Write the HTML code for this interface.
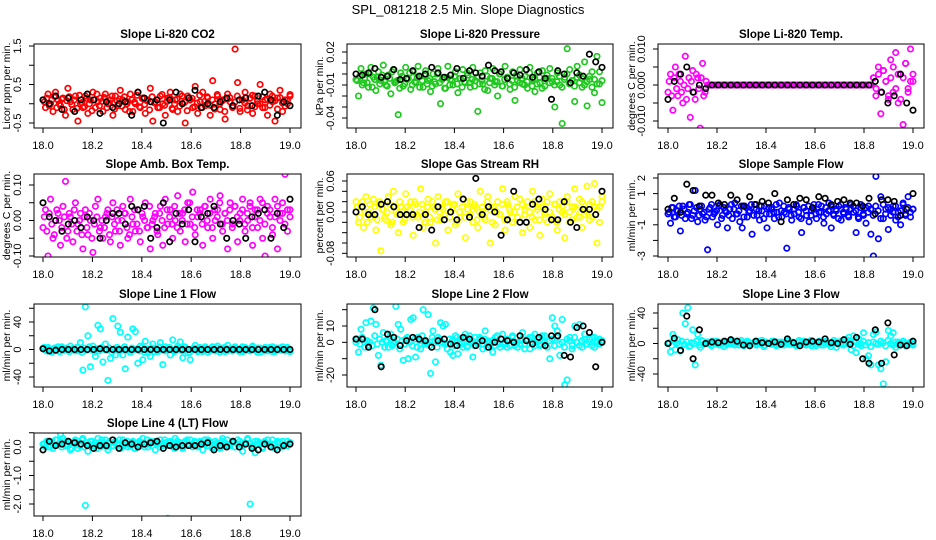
<!DOCTYPE html>
<html><head><meta charset="utf-8"><style>
html,body{margin:0;padding:0;background:#fff;}
svg{display:block;font-family:"Liberation Sans",Arial,sans-serif;}
</style></head><body>
<svg id="chart" width="936" height="540" viewBox="0 0 936 540" xmlns="http://www.w3.org/2000/svg">
<rect x="0" y="0" width="936" height="540" fill="#fff"/>
<text x="468" y="14" font-size="13" text-anchor="middle">SPL_081218  2.5 Min. Slope Diagnostics</text>
</svg>
<script>
// ---- data ----
const xTicks = [18.0, 18.2, 18.4, 18.6, 18.8, 19.0];
const xTickLabels = ["18.0", "18.2", "18.4", "18.6", "18.8", "19.0"];
const timeStart = 18.0, timeEnd = 19.0;

const co2Color = [0.1,-0.1,0.25,0.0,-0.2,0.3,0.1,-0.05,0.15,-0.3,0.4,0.05,-0.15,0.2,-0.45,0.0,-0.1,0.2,-0.25,0.1,0.3,-0.1,0.05,0.15,-0.2,0.25,0.0,0.1,-0.3,0.2,-0.05,0.35,0.1,-0.15,0.05,0.25,-0.2,0.0,0.3,-0.1,0.15,-0.25,0.1,0.4,-0.45,0.05,-0.1,0.2,0.0,-0.3,0.15,0.3,-0.15,0.1,-0.2,0.25,0.0,-0.5,0.2,0.1,-0.1,0.45,-0.25,0.05,0.3,-0.05,0.15,-0.3,0.6,0.0,0.2,-0.15,0.1,-0.4,0.25,0.05,-0.1,1.42,0.55,-0.2,0.1,0.3,-0.05,0.15,-0.25,0.2,0.0,0.5,-0.1,0.1,-0.3,0.25,0.05,-0.45,0.15,0.35,-0.2,0.1,0.0,0.2];
const co2Core = [0.05,0.15,-0.05,0.1,0.2,-0.1,0.0,0.12,-0.15,0.08,0.18,-0.02,0.1,-0.12,0.22,0.03,-0.08,0.14,0.0,-0.18,0.1,0.25,-0.05,0.06,0.16,-0.1,0.02,0.2,-0.14,0.08,0.12,-0.06,0.18,0.0,-0.2,0.1,0.04,0.22,-0.08,0.14,-0.02,0.08,-0.16,0.18,0.02,0.1,-0.1,0.24,-0.04,0.06,0.16,-0.12,0.0,0.12,-0.06,0.2,0.04,-0.18,0.1,0.14,-0.08,0.02,0.22,-0.1,0.06,0.18,-0.04,0.1,-0.14,0.24,0.0,0.08,-0.2,0.12,0.16,-0.06,0.04,0.2,-0.12,0.1,0.02,-0.16,0.14,0.22,-0.08,0.06,0.0,0.18,-0.1,0.12,-0.04,0.2,0.08,-0.14,0.16,0.02,-0.06,0.1,0.24];
const co2Black = [0.1,0.0,0.2,-0.15,0.15,-0.2,0.1,0.25,0.1,-0.25,0.05,-0.1,0.0,0.05,-0.3,0.3,0.15,0.05,0.1,-0.5,0.1,0.3,0.0,0.15,0.35,-0.1,0.0,-0.1,0.05,0.15,-0.05,0.1,0.15,-0.05,0.2,0.3,0.1,-0.3,0.05,-0.05];

const presColor = [-0.005,-0.02,0.005,-0.008,0.0,-0.012,0.006,-0.003,-0.015,0.002,-0.006,0.008,-0.01,-0.001,-0.018,0.004,-0.007,-0.037,0.001,-0.011,0.006,-0.004,-0.014,0.002,-0.008,0.007,-0.002,-0.012,0.003,-0.006,-0.016,0.0,-0.009,0.005,-0.027,-0.003,-0.013,0.007,-0.005,-0.01,0.002,-0.017,-0.004,0.004,-0.008,-0.001,-0.012,0.006,-0.006,-0.034,0.001,-0.009,0.003,-0.015,-0.004,0.005,-0.007,-0.02,0.0,-0.011,0.007,-0.003,-0.014,0.002,-0.024,-0.006,0.004,-0.009,-0.002,-0.013,0.006,-0.005,-0.016,0.001,-0.008,0.003,-0.011,-0.004,0.005,-0.007,-0.03,0.001,-0.01,-0.045,-0.003,0.023,0.004,-0.006,-0.025,0.007,-0.001,-0.012,0.011,-0.029,-0.005,0.002,-0.017,0.016,-0.009,-0.026];
const presCore = [-0.006,-0.002,-0.01,-0.004,-0.008,0.0,-0.012,-0.005,-0.003,-0.009,-0.001,-0.007,-0.011,-0.004,0.002,-0.008,-0.006,-0.013,-0.002,-0.009,-0.005,0.001,-0.01,-0.007,-0.003,-0.012,-0.006,-0.001,-0.009,-0.004,-0.011,-0.007,0.0,-0.008,-0.005,-0.013,-0.003,-0.01,-0.006,-0.002,-0.009,-0.004,-0.012,-0.007,0.001,-0.008,-0.005,-0.011,-0.003,-0.009,-0.006,-0.014,-0.002,-0.008,-0.004,-0.01,-0.007,0.0,-0.011,-0.005,-0.003,-0.009,-0.006,-0.012,-0.002,-0.008,-0.004,-0.01,-0.007,0.001,-0.011,-0.005,-0.009,-0.003,-0.013,-0.006,-0.001,-0.008,-0.004,-0.01,-0.007,-0.002,-0.012,-0.005,0.0,-0.009,-0.006,-0.011,-0.003,-0.008,-0.004,-0.01,-0.007,-0.002,-0.012,-0.005,-0.009,0.002,-0.006];
const presBlack = [0.0,-0.001,0.001,0.005,-0.003,-0.002,0.004,-0.005,-0.004,0.003,-0.002,0.0,0.006,0.001,-0.003,-0.001,0.005,-0.004,0.003,0.001,-0.002,0.008,0.003,0.002,-0.004,0.001,-0.001,0.004,-0.003,0.002,-0.004,-0.023,0.003,0.0,-0.008,0.001,-0.002,0.018,0.011,0.006];

const tempColor = [-0.002,0.003,-0.007,0.005,-0.003,0.001,-0.005,0.008,-0.001,-0.009,0.004,-0.004,0.002,-0.012,0.006,-0.002,0,0,0,0,0,0,0,0,0,0,0,0,0,0,0,0,0,0,0,0,0,0,0,0,0,0,0,0,0,0,0,0,0,0,0,0,0,0,0,0,0,0,0,0,0,0,0,0,0,0,0,0,0,0,0,0,0,0,0,0,0,0,0,0,0,0,0,0.002,-0.003,0.005,-0.008,0.004,0.001,-0.004,0.007,-0.002,0.009,-0.005,0.003,-0.011,0.006,-0.001,0.01,0.001];
const tempCore = [0.001,-0.003,0.002,-0.001,0.003,-0.002,0.0,-0.004,0.002,0.001,-0.002,0.003,-0.001,0.002,-0.003,0.001,0,0,0,0,0,0,0,0,0,0,0,0,0,0,0,0,0,0,0,0,0,0,0,0,0,0,0,0,0,0,0,0,0,0,0,0,0,0,0,0,0,0,0,0,0,0,0,0,0,0,0,0,0,0,0,0,0,0,0,0,0,0,0,0,0,0,0,0.002,-0.001,0.003,-0.002,0.004,0.001,-0.003,0.002,0.005,-0.001,0.003,-0.004,0.002,0.006,-0.002,0.001,0.003];
const tempBlack = [-0.004,0.001,0.003,0.005,-0.002,0.0,-0.001,0,0,0,0,0,0,0,0,0,0,0,0,0,0,0,0,0,0,0,0,0,0,0,0,0,0,0.001,-0.002,-0.005,-0.003,0.003,-0.005,-0.007];

const ambColor = [-0.02,0.03,-0.1,0.06,-0.05,0.0,0.02,-0.07,0.04,0.11,-0.03,0.01,-0.06,0.05,-0.01,0.02,-0.08,0.03,-0.04,0.0,-0.09,0.04,0.06,-0.02,-0.05,0.01,0.03,-0.06,0.05,-0.03,0.0,-0.07,0.04,0.02,-0.05,0.06,-0.01,-0.03,0.03,-0.06,0.01,0.05,-0.02,-0.08,0.0,0.02,-0.04,0.04,-0.07,0.06,-0.01,0.03,-0.05,0.0,0.07,-0.03,0.02,-0.06,0.05,-0.01,0.08,-0.04,0.01,0.03,-0.07,0.04,-0.02,0.06,-0.05,0.0,0.03,0.07,-0.03,0.02,-0.08,0.05,-0.01,0.04,-0.06,0.02,0.06,-0.03,0.0,0.05,-0.07,0.03,-0.02,0.06,-0.05,-0.1,0.04,0.01,-0.04,0.06,-0.08,0.02,0.05,0.13,-0.03,0.03];
const ambCore = [0.01,-0.03,0.02,-0.01,-0.04,0.03,0.0,-0.02,0.01,-0.05,0.02,-0.01,0.03,-0.03,0.0,-0.04,0.01,-0.02,0.02,-0.05,-0.01,0.01,-0.03,0.0,-0.02,0.02,-0.04,0.01,-0.01,0.03,-0.03,0.0,0.02,-0.02,-0.04,0.01,0.03,-0.01,-0.03,0.02,0.0,-0.02,0.04,-0.01,0.01,-0.03,0.02,0.0,-0.02,0.03,0.01,-0.01,0.04,-0.02,0.02,0.0,0.03,-0.01,0.05,0.01,-0.02,0.03,0.02,-0.01,0.04,0.0,0.02,-0.02,0.03,0.01,0.05,-0.01,0.02,0.0,0.03,-0.02,0.04,0.01,0.0,0.03,-0.01,0.02,0.04,-0.02,0.01,0.03,0.0,0.05,-0.01,0.02,0.03,-0.02,0.01,0.04,0.0,0.02,-0.01,0.03,0.01];
const ambBlack = [0.05,0.01,0.0,-0.03,-0.01,0.0,-0.02,0.01,0.0,-0.05,0.0,0.02,0.02,-0.01,0.04,0.03,0.04,-0.05,-0.02,0.05,-0.06,0.02,-0.01,0.03,-0.06,0.01,0.02,0.04,-0.01,-0.05,0.0,-0.01,-0.05,0.01,0.02,0.03,-0.05,0.02,-0.02,0.06];

const rhColor = [0.02,-0.02,0.01,-0.03,0.03,0.0,-0.01,0.025,-0.035,0.015,-0.075,0.005,-0.015,0.03,-0.025,0.04,0.0,-0.04,0.01,-0.02,0.035,-0.005,0.02,-0.045,0.015,-0.01,0.045,-0.03,0.0,0.025,-0.02,0.01,-0.06,0.03,-0.015,0.005,0.02,-0.035,0.0,0.015,-0.025,0.035,-0.01,0.025,-0.05,0.005,0.02,-0.02,0.01,-0.03,0.04,0.0,-0.015,0.03,-0.06,0.01,-0.025,0.02,-0.005,0.045,-0.035,0.015,0.0,-0.02,0.03,-0.01,0.025,-0.04,0.005,0.02,-0.03,0.04,-0.015,0.01,-0.045,0.025,0.0,-0.02,0.035,-0.01,0.015,-0.035,0.02,0.0,-0.05,0.03,-0.02,0.01,0.045,-0.01,0.025,-0.03,0.005,0.05,-0.015,0.02,0.055,-0.06,0.01,0.03];
const rhCore = [0.01,-0.01,0.02,0.0,-0.02,0.015,-0.005,0.01,-0.015,0.02,0.005,-0.01,0.0,0.015,-0.02,0.01,-0.005,0.02,0.0,-0.015,0.01,0.005,-0.01,0.02,-0.005,0.0,0.015,-0.02,0.01,-0.01,0.02,0.005,-0.015,0.0,0.01,-0.005,0.02,-0.01,0.005,0.015,-0.02,0.0,0.01,-0.01,0.02,-0.005,0.005,0.015,-0.015,0.0,0.01,-0.01,0.02,0.005,-0.02,0.01,0.0,-0.005,0.015,-0.015,0.02,0.005,-0.01,0.0,0.01,-0.02,0.015,-0.005,0.01,0.0,-0.01,0.02,0.005,-0.015,0.01,-0.005,0.02,0.0,-0.01,0.015,-0.02,0.005,0.01,-0.005,0.02,0.0,-0.015,0.01,0.005,-0.01,0.02,-0.005,0.0,0.015,-0.01,0.01,0.005,-0.02,0.02];
const rhBlack = [0.0,0.01,-0.005,-0.005,0.015,0.02,0.01,-0.005,-0.005,-0.005,-0.03,-0.005,-0.035,0.01,-0.015,0.0,-0.015,0.025,-0.01,0.065,-0.005,0.01,0.0,-0.045,-0.015,0.04,-0.02,-0.02,0.015,0.025,0.005,-0.015,-0.015,0.02,-0.02,-0.03,0.005,0.005,-0.005,0.04];

const flowColor = [-0.3,-0.9,0.1,-0.5,-0.1,-1.4,0.2,-0.6,-0.2,0.3,-0.4,1.2,-0.8,0.0,-0.3,-0.7,-2.6,0.1,-0.5,-0.2,-1.0,0.3,-0.4,-0.1,-1.2,0.0,-0.6,0.4,-0.3,-0.8,-1.2,0.2,-0.5,-0.1,-1.6,0.3,-0.4,-0.7,-0.1,0.2,-1.2,-0.3,0.1,-0.6,-0.2,0.4,-0.5,-0.2,-2.5,0.0,-0.7,-0.3,0.2,-0.5,-1.5,0.1,-0.4,-0.8,-0.1,0.3,-0.6,-0.2,0.2,-0.9,-0.3,0.4,-1.2,-0.4,-0.1,0.2,-0.7,-0.3,0.0,-0.5,0.3,-0.2,-1.5,-0.6,0.1,-0.4,-0.9,0.2,-1.6,-3.0,2.1,-1.9,0.8,-0.6,0.0,-1.3,-0.4,0.2,-0.7,-0.2,-1.0,0.4,-0.3,0.8,-0.5,0.0];
const flowCore = [-0.2,0.1,-0.5,-0.1,0.2,-0.4,0.0,-0.3,0.3,-0.6,-0.1,0.1,-0.4,0.2,-0.2,-0.5,0.0,0.3,-0.3,-0.1,0.2,-0.6,0.1,-0.2,-0.4,0.3,0.0,-0.3,-0.1,0.2,-0.5,0.1,-0.2,0.3,-0.4,0.0,-0.1,0.2,-0.6,-0.3,0.1,0.0,-0.2,0.3,-0.5,-0.1,0.2,-0.3,0.1,-0.4,0.0,0.3,-0.2,-0.6,0.1,-0.1,0.2,-0.4,0.0,-0.3,0.3,-0.2,-0.5,0.1,-0.1,0.2,-0.3,0.0,-0.6,0.3,-0.2,0.1,-0.4,0.0,0.2,-0.1,-0.5,0.3,-0.3,0.1,-0.2,0.0,-0.4,0.2,-0.1,-0.6,0.3,-0.3,0.1,0.0,-0.2,0.2,-0.5,-0.1,0.3,-0.4,0.1,-0.2,0.0];
const flowBlack = [0.0,0.7,-0.2,1.6,1.2,0.2,0.9,0.9,0.4,0.3,0.9,0.6,0.2,0.8,0.3,0.5,0.4,1.0,-0.8,0.6,0.3,0.7,0.6,0.1,0.8,0.7,0.3,0.5,0.6,0.4,0.4,0.2,0.7,-0.3,0.6,0.6,0.5,-0.4,0.0,1.0];

const line1Color = [2,-1,3,0,-2,1,4,-3,2,0,-1,5,1,-2,3,10,-30,62,20,-25,5,-10,35,30,-18,8,-45,-13,45,-8,34,25,-8,-28,18,-4,30,26,-20,5,-15,12,-5,-10,8,2,-3,10,-22,4,0,-8,14,-2,5,11,-12,3,-5,-15,1,6,-3,2,-1,4,-4,0,3,-2,5,-1,2,-3,6,0,-2,4,-1,1,-3,3,0,-2,5,-1,2,-4,1,3,-2,0,4,-3,1,2,-1,0,3,-2];
const line1Core = [3,-2,1,-4,2,0,-3,4,-1,2,-3,1,0,3,-2,-4,2,-1,4,0,-3,1,-2,3,0,-1,2,-4,1,3,-2,0,4,-1,-3,2,0,1,-2,3,-4,1,0,2,-3,-1,4,0,-2,1,3,-1,-3,2,0,-2,4,1,-4,0,2,-1,3,-3,1,0,-2,4,-1,2,-4,0,3,-2,1,-1,2,0,-3,4,-2,1,0,3,-1,-4,2,0,-2,1,3,-3,0,2,-1,4,-2,1,-3];
const line1Black = [1,-2,-1,0,0,0,0,0,0,1,0,0,0,0,0,0,0,0,0,0,0,0,0,0,0,0,0,0,0,0,0,0,0,0,0,0,0,0,0,0];

const line2Color = [0,-6,8,2,12,-2,13,21,11,-8,-14,6,1,-3,5,-1,22,11,8,-11,2,-10,14,15,-9,3,-4,20,0,17,-19,7,-12,3,12,10,11,-1,-6,-8,4,-7,2,-3,5,-2,0,-9,3,-1,2,-4,7,1,-2,-6,3,0,-3,5,-1,2,-2,4,0,-3,1,6,-1,2,-4,3,5,0,-2,1,4,-3,-10,15,10,7,-8,14,-26,-23,3,-2,10,0,11,-3,5,-1,2,-2,3,0,-1,1];
const line2Core = [2,-1,3,-3,1,0,-2,4,-1,2,0,-3,1,3,-2,0,2,-4,1,-1,3,0,-2,2,-3,1,4,-1,0,-2,3,1,-3,2,0,-1,-4,2,1,-2,3,0,-1,2,-3,4,1,-2,0,3,-1,2,-3,0,1,-2,4,-1,2,0,-3,1,3,-2,0,-1,2,-4,1,3,0,-2,2,-1,4,0,-3,1,2,-2,3,-1,0,-3,2,1,-4,3,0,-2,1,2,-1,0,3,-3,1,2,0];
const line2Black = [2,2,-3,20,-15,5,3,-2,1,3,2,1,-3,1,2,-1,-2,3,2,-2,1,-3,0,2,1,0,4,1,-1,3,-2,4,4,-8,-9,9,10,6,-15,0];

const line3Color = [0,-11,12,-8,5,-10,40,26,47,-3,18,-28,12,-5,3,0,2,-1,3,0,1,-2,2,0,-1,3,1,-2,0,2,-1,1,3,-2,0,2,-1,0,4,-2,1,0,3,-1,2,-2,0,1,3,-1,2,0,-2,4,1,-1,0,2,-3,1,0,3,-2,1,2,-1,0,4,-5,2,-1,0,5,8,-8,10,-12,6,-3,14,-20,-16,-28,12,15,-28,-33,-53,-24,17,10,14,-5,2,-1,3,0,-2,1,0];
const line3Core = [1,-3,4,0,-2,3,-1,2,-4,1,0,3,-2,4,-1,2,0,-3,1,3,-2,0,-4,2,1,-1,3,0,-2,4,-3,1,2,-1,0,-2,3,1,-4,2,0,-1,3,-3,1,2,-2,0,4,-1,1,-3,2,0,3,-2,-1,4,0,-3,2,1,-2,3,0,-4,1,2,-1,3,-2,0,4,1,-3,2,-1,0,3,-2,1,-4,2,0,-1,3,1,-3,4,0,-2,2,-1,1,3,-3,0,2,-2];
const line3Black = [0,7,-9,36,-20,18,0,2,1,3,5,3,-2,-3,3,1,0,2,-1,6,1,-3,2,3,2,6,1,0,5,-1,8,-20,-26,18,-26,27,-15,-2,-3,3];

const line4Color = [0.1,0.0,0.2,0.15,-0.05,0.25,0.1,0.45,0.3,0.05,0.2,-0.1,0.15,0.25,-0.05,0.1,0.3,-2.05,-0.15,0.2,0.05,0.15,0.3,0.0,0.1,0.25,-0.1,0.15,0.05,0.2,0.1,-0.05,0.25,0.15,0.0,0.1,0.2,-0.05,0.15,0.05,0.3,0.1,0.0,0.2,0.15,-0.1,0.1,0.25,0.05,0.15,-2.5,0.2,0.0,0.3,0.1,0.15,-0.05,0.2,0.1,0.25,0.0,0.15,0.05,0.2,-0.1,0.1,0.25,0.15,0.0,0.2,0.1,-0.05,0.3,0.15,0.05,0.1,0.2,0.0,0.25,0.1,-0.15,0.15,0.3,-2.0,0.05,-0.2,0.2,0.1,0.0,0.15,0.25,0.05,0.1,-0.05,0.2,0.15,0.0,0.1,0.2,0.15];
const line4Core = [0.1,0.2,0.0,0.15,0.05,0.25,0.1,0.0,0.2,0.1,0.15,-0.05,0.2,0.1,0.05,0.25,0.0,0.15,0.1,0.2,0.05,-0.05,0.15,0.25,0.1,0.0,0.2,0.05,0.15,0.1,0.25,0.0,0.1,0.2,0.05,0.15,-0.05,0.1,0.2,0.15,0.0,0.25,0.1,0.05,0.2,0.15,0.0,0.1,0.25,0.05,0.15,0.1,-0.05,0.2,0.1,0.0,0.15,0.25,0.05,0.1,0.2,0.0,0.15,0.1,0.25,0.05,0.2,-0.05,0.1,0.15,0.0,0.2,0.1,0.25,0.05,0.15,0.0,0.1,0.2,0.05,0.15,0.25,0.1,0.0,0.2,0.1,0.15,-0.05,0.2,0.1,0.05,0.25,0.1,0.15,0.0,0.2,0.1,0.05,0.15];
const line4Black = [-0.1,0.2,0.05,0.1,0.2,0.15,0.1,0.05,-0.05,0.05,0.05,0.25,-0.05,0.15,0.1,0.0,0.1,0.15,0.2,-0.05,0.05,0.0,0.05,0.05,0.05,0.1,0.15,-0.1,0.05,0.0,0.2,0.0,0.1,-0.05,-0.1,0.1,0.0,-0.1,0.05,0.1];

// y tick values and labels
const co2Ticks = [-0.5,0,0.5,1,1.5]; const co2Labels = ["-0.5","","0.5","","1.5"];
const presTicks = [0.02,0.01,0,-0.01,-0.02,-0.03,-0.04]; const presLabels = ["0.02","","","-0.01","","","-0.04"];
const tempTicks = [0.01,0.005,0,-0.005,-0.01]; const tempLabels = ["0.010","","0.000","","-0.010"];
const ambTicks = [0.1,0.05,0,-0.05,-0.1]; const ambLabels = ["0.10","","0.00","","-0.10"];
const rhTicks = [0.06,0.04,0.02,0,-0.02,-0.04,-0.06,-0.08]; const rhLabels = ["0.06","","","0.00","","","","-0.08"];
const flowTicks = [2,1,0,-1,-2,-3]; const flowLabels = ["2","1","","-1","","-3"];
const line1Ticks = [60,40,20,0,-20,-40]; const line1Labels = ["","40","","0","","-40"];
const line2Ticks = [20,10,0,-10,-20]; const line2Labels = ["","10","0","","-20"];
const line3Ticks = [40,20,0,-20,-40]; const line3Labels = ["40","","0","","-40"];
const line4Ticks = [0.5,0,-0.5,-1,-1.5,-2,-2.5]; const line4Labels = ["","0.0","","-1.0","","-2.0",""];

// ---- layout ----
const cols = [{l:34,r:301,x0:43,x1:290,ax:10},{l:347,r:613,x0:356,x1:602,ax:323},{l:658,r:924,x0:668,x1:913,ax:635}];
const rows = [{t:44,b:128},{t:174,b:257},{t:304,b:387},{t:433,b:516}];
const panels = [
 {name:"co2",title:"Slope Li-820 CO2",ylab:"Licor ppm per min.",c:0,r:0,col:"#ff0000",d:co2Color,d2:co2Core,k:co2Black,v0:1.5,p0:46,v1:-0.5,p1:123,ticks:co2Ticks,labels:co2Labels},
 {name:"pressure",title:"Slope Li-820 Pressure",ylab:"kPa per min.",c:1,r:0,col:"#1ec81e",d:presColor,d2:presCore,k:presBlack,v0:0.02,p0:52,v1:-0.04,p1:118,ticks:presTicks,labels:presLabels},
 {name:"temp",title:"Slope Li-820 Temp.",ylab:"degrees C per min.",c:2,r:0,col:"#ff00ff",d:tempColor,d2:tempCore,k:tempBlack,v0:0.01,p0:49,v1:-0.01,p1:121,ticks:tempTicks,labels:tempLabels},
 {name:"amb-box-temp",title:"Slope Amb. Box Temp.",ylab:"degrees C per min.",c:0,r:1,col:"#ff00ff",d:ambColor,d2:ambCore,k:ambBlack,v0:0.1,p0:185,v1:-0.1,p1:256,ticks:ambTicks,labels:ambLabels},
 {name:"gas-stream-rh",title:"Slope Gas Stream RH",ylab:"percent per min.",c:1,r:1,col:"#ffff00",d:rhColor,d2:rhCore,k:rhBlack,v0:0.06,p0:181,v1:0,p1:212,ticks:rhTicks,labels:rhLabels},
 {name:"sample-flow",title:"Slope Sample Flow",ylab:"ml/min per min.",c:2,r:1,col:"#0000ff",d:flowColor,d2:flowCore,k:flowBlack,v0:2,p0:178,v1:-3,p1:256,ticks:flowTicks,labels:flowLabels},
 {name:"line1-flow",title:"Slope Line 1 Flow",ylab:"ml/min per min.",c:0,r:2,col:"#00ffff",d:line1Color,d2:line1Core,k:line1Black,v0:40,p0:322,v1:-40,p1:377,ticks:line1Ticks,labels:line1Labels},
 {name:"line2-flow",title:"Slope Line 2 Flow",ylab:"ml/min per min.",c:1,r:2,col:"#00ffff",d:line2Color,d2:line2Core,k:line2Black,v0:10,p0:326,v1:-20,p1:375,ticks:line2Ticks,labels:line2Labels},
 {name:"line3-flow",title:"Slope Line 3 Flow",ylab:"ml/min per min.",c:2,r:2,col:"#00ffff",d:line3Color,d2:line3Core,k:line3Black,v0:40,p0:313,v1:-40,p1:374,ticks:line3Ticks,labels:line3Labels},
 {name:"line4-flow",title:"Slope Line 4 (LT) Flow",ylab:"ml/min per min.",c:0,r:3,col:"#00ffff",d:line4Color,d2:line4Core,k:line4Black,v0:0,p0:447,v1:-2,p1:504,ticks:line4Ticks,labels:line4Labels}
];

const NS = "http://www.w3.org/2000/svg";
const svg = document.getElementById("chart");
function mk(tag, attrs, parent){ const e=document.createElementNS(NS,tag); for(const k in attrs) e.setAttribute(k,attrs[k]); (parent||svg).appendChild(e); return e; }

panels.forEach(p=>{
  const C=cols[p.c], R=rows[p.r];
  const xs = t => C.x0 + (t-timeStart)/(timeEnd-timeStart)*(C.x1-C.x0);
  const ys = v => p.p0 + (v-p.v0)/(p.v1-p.v0)*(p.p1-p.p0);
  const g = mk("g",{});
  
  
  const clip = mk("clipPath",{id:"clip-"+p.name},g);
  mk("rect",{x:C.l,y:R.t,width:C.r-C.l,height:R.b-R.t},clip);
  const tt = mk("text",{x:(C.l+C.r)/2,y:R.t-6,"font-size":"11.5","font-weight":"bold","text-anchor":"middle"},g);
  tt.textContent = p.title;
  
  
  const pts = mk("g",{"clip-path":"url(#clip-"+p.name+")"},g);
  
  
  const drawSeries=(arr,color,sname,shift)=>{
    const n=arr.length;
    arr.forEach((v,i)=>{
      const f = n>1 ? (i+shift)/(n-1+shift) : 0;
      const t = timeStart + f*(timeEnd-timeStart);
      const c = mk("circle",{cx:xs(t).toFixed(1),cy:ys(v).toFixed(1),r:2.7,fill:"none",stroke:color,"stroke-width":1.7},pts);
      
      
    });
  };
  drawSeries(p.d,p.col,p.name+'-color',0);
  drawSeries(p.d2,p.col,p.name+'-color-core',0.5);
  drawSeries(p.k,"#000",p.name+'-black',0);
  const box = mk("rect",{x:C.l,y:R.t,width:C.r-C.l,height:R.b-R.t,fill:"none",stroke:"#000","stroke-width":1},g);
  
  
  const xa = mk("g",{},g);
  
  
  mk("line",{x1:xs(xTicks[0]),x2:xs(xTicks[xTicks.length-1]),y1:R.b,y2:R.b,stroke:"#000"},xa);
  xTicks.forEach((t,i)=>{
    mk("line",{x1:xs(t),x2:xs(t),y1:R.b,y2:R.b+5,stroke:"#000"},xa);
    const l = mk("text",{x:xs(t),y:R.b+21,"font-size":"11","text-anchor":"middle"},xa);
    l.textContent = xTickLabels[i];
    
    
  });
  const ya = mk("g",{},g);
  
  
  const yv = p.ticks.map(ys).filter(y=>y>=R.t-1&&y<=R.b+1);
  mk("line",{x1:C.l,x2:C.l,y1:Math.min(...yv),y2:Math.max(...yv),stroke:"#000"},ya);
  p.ticks.forEach((v,i)=>{
    const y=ys(v); if(y<R.t-1||y>R.b+1) return;
    mk("line",{x1:C.l-5,x2:C.l,y1:y,y2:y,stroke:"#000"},ya);
    if(p.labels[i]){
      const l = mk("text",{x:C.l-13,y:y,"font-size":"11","text-anchor":"middle",transform:"rotate(-90 "+(C.l-13)+" "+y+")"},ya);
      l.textContent = p.labels[i];
      
      
    }
  });
  const cy=(R.t+R.b)/2;
  const yl = mk("text",{x:C.ax,y:cy,"font-size":"10.5","text-anchor":"middle",transform:"rotate(-90 "+C.ax+" "+cy+")"},g);
  yl.textContent = p.ylab;
  
  
});
</script>
</body></html>
